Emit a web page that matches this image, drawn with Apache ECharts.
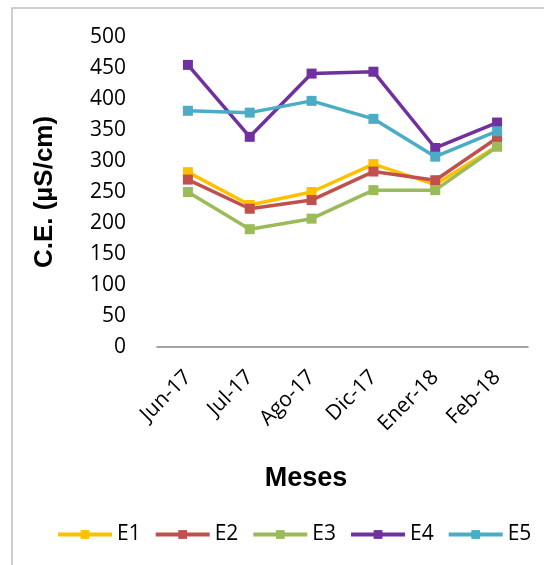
<!DOCTYPE html>
<html>
<head>
<meta charset="utf-8">
<script src="https://cdn.jsdelivr.net/npm/echarts@6/dist/echarts.min.js"></script>
<style>
  html, body { margin: 0; padding: 0; background: #fff; }
  #chart { width: 544px; height: 565px; }
</style>
</head>
<body>
<div id="chart"></div>
<script>
// meses muestreados
const months = ['Jun-17', 'Jul-17', 'Ago-17', 'Dic-17', 'Ener-18', 'Feb-18']
// conductividad eléctrica por estación (µS/cm)
const e1 = [282, 229, 250, 295, 262, 324]
const e2 = [270, 223, 237, 283, 269, 337]
const e3 = [250, 190, 207, 253, 253, 323]
const e4 = [455, 339, 441, 444, 321, 362]
const e5 = [381, 378, 397, 368, 307, 348]
const yTicks = { min: 0, max: 500, interval: 50 }

const stations = [
  { name: 'E1', data: e1, color: '#FFC000' },
  { name: 'E2', data: e2, color: '#C0504D' },
  { name: 'E3', data: e3, color: '#9BBB59' },
  { name: 'E4', data: e4, color: '#7030A0' },
  { name: 'E5', data: e5, color: '#4BACC6' },
]

const labelFont = '"Open Sans", sans-serif'

const myChart = echarts.init(document.getElementById('chart'))
myChart.setOption({
  animation: false,
  grid: { left: 157, right: 16, top: 37, bottom: 218 },
  graphic: [
    {
      type: 'rect',
      shape: { x: 12, y: 8, width: 700, height: 700 },
      style: { fill: 'none', stroke: '#bfbfbf', lineWidth: 1.5 },
      silent: true,
    },
    {
      type: 'text',
      x: 306,
      y: 479,
      style: {
        text: 'Meses',
        fontFamily: '"Liberation Sans", Arial, sans-serif',
        fontWeight: 'bold',
        fontSize: 27,
        fill: '#000',
        align: 'center',
        verticalAlign: 'middle',
      },
    },
  ],
  legend: {
    left: 51,
    top: 519,
    width: 520,
    itemWidth: 54,
    itemHeight: 11,
    itemGap: 13,
    lineStyle: { width: 4 },
    textStyle: { fontFamily: labelFont, fontSize: 21, color: '#000' },
    data: stations.map(s => s.name),
  },
  xAxis: {
    type: 'category',
    data: months,
    boundaryGap: true,
    axisLine: { lineStyle: { color: '#868686', width: 1.5 } },
    axisTick: { show: false },
    axisLabel: {
      rotate: 45,
      margin: 27,
      color: '#000',
      fontFamily: labelFont,
      fontSize: 21,
      interval: 0,
    },
  },
  yAxis: {
    type: 'value',
    min: yTicks.min,
    max: yTicks.max,
    interval: yTicks.interval,
    name: 'C.E. (µS/cm)',
    nameLocation: 'middle',
    nameGap: 99,
    nameTextStyle: {
      fontFamily: '"Liberation Sans", Arial, sans-serif',
      fontWeight: 'bold',
      fontSize: 26,
      color: '#000',
    },
    axisLine: { show: false },
    axisTick: { show: false },
    splitLine: { show: false },
    axisLabel: {
      margin: 31,
      color: '#000',
      fontFamily: labelFont,
      fontSize: 21,
    },
  },
  series: stations.map(s => ({
    name: s.name,
    type: 'line',
    data: s.data,
    symbol: 'rect',
    symbolSize: 10,
    lineStyle: { color: s.color, width: 3.5 },
    itemStyle: { color: s.color },
  })),
})
</script>
</body>
</html>
